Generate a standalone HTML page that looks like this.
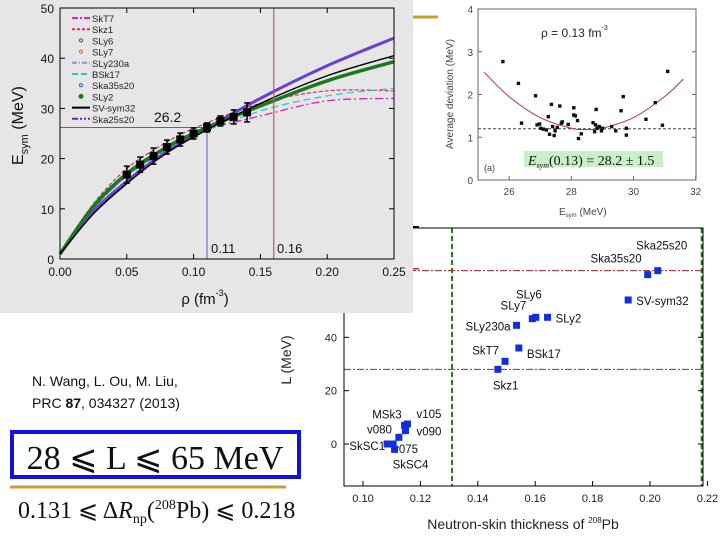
<!DOCTYPE html>
<html><head><meta charset="utf-8"><style>
body{margin:0;background:#fff;width:720px;height:540px;overflow:hidden;font-family:"Liberation Sans",sans-serif}
svg{position:absolute;left:0;top:0}
</style></head><body>
<svg id="s" width="720" height="540" xmlns="http://www.w3.org/2000/svg"></svg>
<script>
// ---- Left panel data (Esym vs rho) ----
const rhoGrid=[0,0.025,0.05,0.075,0.1,0.15,0.2,0.25];
const svSym32=[1,9,15,20.2,24.3,31,36.5,40.5];
const sly2=[1,10.5,17,21.5,25,30.5,35.5,39.3];
const ska25=[1,9.5,15.5,20.5,24.5,32,38.5,44];
const skz1=[1,11,18,22.5,26,31,33.5,33.5];
const skt7=[1,10,16.5,21,25,28.5,31.5,32];
const bsk17=[1,10,16.5,21,24.5,29.5,32.5,34];
const expRho=[0.05,0.06,0.07,0.08,0.09,0.10,0.11,0.12,0.13,0.14];
const expE=[16.8,18.8,20.5,22.3,23.8,25,26.2,27.5,28.3,29.2];
const expErr=[1.7,1.5,1.6,1.4,1.3,1.1,0.9,1.0,1.4,1.9];
const leftXTicks=[0,0.05,0.10,0.15,0.20,0.25];
const leftYTicks=[0,10,20,30,40,50];
const legendNames=["SkT7","Skz1","SLy6","SLy7","SLy230a","BSk17","Ska35s20","SLy2","SV-sym32","Ska25s20"];
// ---- Top-right data ----
const devE=[25.8,26.3,26.4,26.85,26.9,26.98,27.02,27.1,27.2,27.26,27.3,27.36,27.4,27.45,27.48,27.55,27.63,27.68,27.71,27.9,28.08,28.08,28.13,28.2,28.23,28.32,28.7,28.75,28.78,28.8,28.83,28.9,28.97,29.0,29.3,29.43,29.6,29.67,29.77,29.77,30.4,30.7,30.93,31.1];
const devD=[2.77,2.26,1.33,1.97,1.29,1.31,1.21,1.19,1.17,1.48,1.07,1.77,1.25,1.04,1.15,1.23,1.73,1.33,1.36,1.30,1.69,1.52,1.5,1.39,0.97,1.08,1.34,1.13,1.29,1.65,1.21,1.25,1.15,1.21,1.25,1.15,1.62,1.95,1.21,1.05,1.42,1.81,1.28,2.54];
const fitE=[25.2,26,27,28,28.5,29,30,31,31.6];
const fitD=[2.52,1.95,1.46,1.21,1.18,1.21,1.46,1.95,2.36];
const trXTicks=[26,28,30,32];
const trYTicks=[0,1,2,3,4];
// ---- Bottom-right data ----
const modelNames=["Ska25s20","Ska35s20","SV-sym32","SLy6","SLy7","SLy2","SLy230a","BSk17","SkT7","Skz1","MSk3","v105","v090","v080","SkSC1","v075","SkSC4"];
const modelSkin=[0.2027,0.1992,0.1924,0.1602,0.159,0.1643,0.1535,0.1543,0.1495,0.147,0.1145,0.1155,0.1148,0.1125,0.1084,0.1105,0.111];
const modelL=[65,63.5,54,47.5,47,47.5,44.5,36,31,28,7,7.5,5,2.5,0,0,-2];
const brXTicks=[0.10,0.12,0.14,0.16,0.18,0.20,0.22];
const brYTicks=[0,20,40];

const NS="http://www.w3.org/2000/svg";
const S=document.getElementById('s');
function mk(t,a,p){const e=document.createElementNS(NS,t);for(const k in a)e.setAttribute(k,a[k]);(p||S).appendChild(e);return e;}
function tx(x,y,s,a,p){const e=mk('text',Object.assign({x:x,y:y},a),p);e.textContent=s;return e;}
function smooth(pts){let d="M"+pts[0][0]+","+pts[0][1];for(let i=0;i<pts.length-1;i++){const p0=pts[i-1]||pts[i],p1=pts[i],p2=pts[i+1],p3=pts[i+2]||p2;d+=" C"+(p1[0]+(p2[0]-p0[0])/6)+","+(p1[1]+(p2[1]-p0[1])/6)+" "+(p2[0]-(p3[0]-p1[0])/6)+","+(p2[1]-(p3[1]-p1[1])/6)+" "+p2[0]+","+p2[1];}return d;}
let e;

// ===== Bottom-right (drawn first, left panel overlaps it) =====
const bX=v=>363+(v-0.10)*2870, bY=v=>444-v*2.667;
const BG=mk('g',{});
[0.131,0.218].forEach(v=>{e=mk('line',{x1:bX(v),x2:bX(v),y1:228,y2:486,stroke:"#208020","stroke-width":2,"stroke-dasharray":"5,3"},BG);});
[65,28].forEach(v=>{e=mk('line',{x1:344,x2:703,y1:bY(v),y2:bY(v),stroke:"#b02020","stroke-width":1,"stroke-dasharray":"7,2,2,2"},BG);});
const lab={"Ska25s20":[4,-21,"middle"],"Ska35s20":[-6,-12,"end"],"SV-sym32":[8,5,"start"],"SLy6":[6,-19,"end"],"SLy7":[-6,-9,"end"],"SLy2":[8,5,"start"],"SLy230a":[-6,5,"end"],"BSk17":[8,10,"start"],"SkT7":[-6,-7,"end"],"Skz1":[-5,20,"start"],"MSk3":[-3,-7,"end"],"v105":[9,-6,"start"],"v090":[11,5,"start"],"v080":[-7,-4,"end"],"SkSC1":[-2,6,"end"],"v075":[0,9,"start"],"SkSC4":[-2,19,"start"]};
modelNames.forEach((n,i)=>{const x=bX(modelSkin[i]),y=bY(modelL[i]);
e=mk('rect',{x:x-3.5,y:y-3.5,width:7,height:7,fill:"#1030e0"},BG);
const l=lab[n];e=tx(x+l[0],y+l[1],n,{"font-size":11.5,"text-anchor":l[2],fill:"#111"},BG);});
mk('rect',{x:344,y:228,width:359,height:258,fill:"none",stroke:"#000"},BG);
brXTicks.forEach(v=>{mk('line',{x1:bX(v),x2:bX(v),y1:486,y2:481,stroke:"#000"},BG);e=tx(bX(v),502,v.toFixed(2),{"font-size":11,"text-anchor":"middle",fill:"#222"},BG);});
brYTicks.forEach(v=>{mk('line',{x1:344,x2:349,y1:bY(v),y2:bY(v),stroke:"#000"},BG);mk('line',{x1:703,x2:698,y1:bY(v),y2:bY(v),stroke:"#000"},BG);e=tx(337,bY(v)+4,v,{"font-size":11,"text-anchor":"end",fill:"#222"},BG);});
e=mk('text',{x:523,y:529,"font-size":14,"text-anchor":"middle",fill:"#222"},BG);e.innerHTML='Neutron-skin thickness of <tspan font-size="8" dy="-6">208</tspan><tspan dy="6">Pb</tspan>';
e=tx(0,0,"L (MeV)",{transform:"translate(291,360) rotate(-90)","font-size":14,"text-anchor":"middle",fill:"#222"},BG);

// ===== Left panel =====
let r=mk('rect',{x:0,y:0,width:413,height:313,fill:"#e6e6e6"});

const lx=v=>60+v/0.25*334, ly=v=>259-v*5.02;
const LG=mk('g',{});
const curves=[[skt7,"#e020c0","8,3,2,3",1.3],[skz1,"#d0306a","4,2",1.2],[bsk17,"#20c8d0","7,4",1.2],[ska25,"#6a40d0","",3],[sly2,"#1a7a1a","",3.5],[svSym32,"#000","",1.4]];
const cn=["curve-skt7","curve-skz1","curve-bsk17","curve-ska25s20","curve-sly2","curve-sv-sym32"];
curves.forEach((c,i)=>{const p=mk('path',{d:smooth(rhoGrid.map((v,j)=>[lx(v),ly(c[0][j])])),fill:"none",stroke:c[1],"stroke-width":c[3],"stroke-dasharray":c[2]},LG);
});
e=mk('line',{x1:lx(0.11),y1:ly(0),x2:lx(0.11),y2:ly(26.2),stroke:"#5560c0","stroke-width":1},LG);
e=mk('line',{x1:lx(0),y1:ly(26.2),x2:lx(0.11),y2:ly(26.2),stroke:"#5560c0","stroke-width":1},LG);
e=mk('line',{x1:lx(0.16),y1:ly(0),x2:lx(0.16),y2:ly(50),stroke:"#d05050","stroke-width":1.2},LG);
tx(154,122,"26.2",{"font-size":14,fill:"#111"},LG);tx(211,253,"0.11",{"font-size":13,fill:"#111"},LG);tx(277,253,"0.16",{"font-size":13,fill:"#111"},LG);
expRho.forEach((v,i)=>{const x=lx(v);
e=mk('line',{x1:x,y1:ly(expE[i]-expErr[i]),x2:x,y2:ly(expE[i]+expErr[i]),stroke:"#000","stroke-width":1.5},LG);
[expErr[i],-expErr[i]].forEach(d=>mk('line',{x1:x-3,x2:x+3,y1:ly(expE[i]+d),y2:ly(expE[i]+d),stroke:"#000","stroke-width":1.5},LG));
e=mk('rect',{x:x-4,y:ly(expE[i])-4,width:8,height:8,fill:"#000"},LG);});
e=mk('rect',{x:60,y:8,width:334,height:251,fill:"none",stroke:"#000","stroke-width":1},LG);
leftXTicks.forEach(v=>{mk('line',{x1:lx(v),x2:lx(v),y1:259,y2:254,stroke:"#000"},LG);mk('line',{x1:lx(v),x2:lx(v),y1:8,y2:13,stroke:"#000"},LG);
e=tx(lx(v),276,v.toFixed(2),{"font-size":12,"text-anchor":"middle",fill:"#111"},LG);});
leftYTicks.forEach(v=>{mk('line',{x1:60,x2:65,y1:ly(v),y2:ly(v),stroke:"#000"},LG);mk('line',{x1:394,x2:389,y1:ly(v),y2:ly(v),stroke:"#000"},LG);
e=tx(54,ly(v)+5,v,{"font-size":12,"text-anchor":"end",fill:"#111"},LG);});
e=mk('text',{x:205,y:304,"font-size":15,"text-anchor":"middle",fill:"#111"},LG);e.innerHTML='ρ (fm<tspan font-size="9" dy="-8">-3</tspan><tspan dy="8">)</tspan>';
e=mk('text',{transform:"translate(23,165) rotate(-90)","font-size":16,fill:"#111"},LG);e.innerHTML='E<tspan font-size="11" dy="5">sym</tspan><tspan dy="-5"> (MeV)</tspan>';
const legSty=[["#e020c0","6,2,2,2"],["#d0306a","3,2"],["",""],["",""],["#9090d0","5,2,1,2"],["#20c8d0","6,3"],["",""],["",""],["#000",""],["#6a20c0","6,2,2,2,2,2"]];
legendNames.forEach((n,i)=>{const y=18+i*11.2;const s=legSty[i];
if(s[0])mk('line',{x1:72,x2:90,y1:y,y2:y,stroke:s[0],"stroke-width":2,"stroke-dasharray":s[1]},LG);
else mk('circle',{cx:81,cy:y,r:i==7?2:1.5,fill:i==7?"#1a7a1a":"none",stroke:["","","#555","#c07070","","","#5050c0","#1a7a1a"][i]},LG);
e=tx(92,y+4,n,{"font-size":9.5,fill:"#222"},LG);});
mk('line',{x1:413,x2:438,y1:17,y2:17,stroke:"#c8a030","stroke-width":3});

// ===== Top-right =====
const tX=v=>478+(v-25)*31.1, tY=v=>180-v*42.75;
const TG=mk('g',{});
e=mk('rect',{x:524,y:151,width:139,height:16,fill:"#c8f0c8"},TG);
e=mk('line',{x1:478,x2:696,y1:tY(1.2),y2:tY(1.2),stroke:"#205060","stroke-dasharray":"3,2"},TG);
e=mk('path',{d:smooth(fitE.map((v,i)=>[tX(v),tY(fitD[i])])),fill:"none",stroke:"#c03040","stroke-width":1},TG);
devE.forEach((v,i)=>{e=mk('rect',{x:tX(v)-1.7,y:tY(devD[i])-1.7,width:3.4,height:3.4,fill:"#111"},TG);});
mk('rect',{x:478,y:9,width:218,height:171,fill:"none",stroke:"#666"},TG);
trXTicks.forEach(v=>{mk('line',{x1:tX(v),x2:tX(v),y1:180,y2:176,stroke:"#666"},TG);e=tx(tX(v),195,v,{"font-size":10,"text-anchor":"middle",fill:"#444"},TG);});
trYTicks.forEach(v=>{mk('line',{x1:478,x2:482,y1:tY(v),y2:tY(v),stroke:"#666"},TG);mk('line',{x1:696,x2:692,y1:tY(v),y2:tY(v),stroke:"#666"},TG);e=tx(473,tY(v)+4,v,{"font-size":10,"text-anchor":"end",fill:"#444"},TG);});
e=mk('text',{x:541,y:37,"font-size":12,fill:"#222"},TG);e.innerHTML='ρ = 0.13 fm<tspan font-size="7" dy="-7">-3</tspan>';
e=mk('text',{x:528,y:165,"font-size":14,"font-family":"Liberation Serif, serif",fill:"#111"},TG);e.innerHTML='<tspan font-style="italic">E</tspan><tspan font-size="8" font-style="italic" dy="3">sym</tspan><tspan dy="-3">(0.13) = 28.2 ± 1.5</tspan>';
tx(484,171,"(a)",{"font-size":9,fill:"#444"},TG);
e=mk('text',{x:559,y:215,"font-size":10,fill:"#444"},TG);e.innerHTML='E<tspan font-size="6" dy="2">sym</tspan><tspan dy="-2"> (MeV)</tspan>';
e=tx(0,0,"Average deviation (MeV)",{transform:"translate(453,94) rotate(-90)","font-size":10,"text-anchor":"middle",fill:"#444"},TG);
mk('rect',{x:413,y:226,width:6,height:1.5,fill:"#000"});mk('rect',{x:413,y:268,width:6,height:1.5,fill:"#b03030"});

// ===== Bottom-left text =====
e=tx(32,386,"N. Wang, L. Ou, M. Liu,",{"font-size":14,fill:"#111"});
e=mk('text',{x:32,y:408,"font-size":14,fill:"#111"});e.innerHTML='PRC <tspan font-weight="bold">87</tspan>, 034327 (2013)';
e=mk('rect',{x:12,y:432,width:287,height:45,fill:"none",stroke:"#1010e0","stroke-width":4});
e=tx(155,469,"28 ⩽ L ⩽ 65 MeV",{"font-size":34,"text-anchor":"middle","font-family":"Liberation Serif, serif",fill:"#111"});
mk('line',{x1:10,x2:286,y1:487,y2:487,stroke:"#c8a030","stroke-width":3});
e=mk('text',{x:18,y:518,"font-size":24,"font-family":"Liberation Serif, serif",fill:"#111"});e.innerHTML='0.131 ⩽ Δ<tspan font-style="italic">R</tspan><tspan font-size="14" dy="5">np</tspan><tspan dy="-5">(</tspan><tspan font-size="14" dy="-9">208</tspan><tspan dy="9">Pb) ⩽ 0.218</tspan>';
</script>
</body></html>
